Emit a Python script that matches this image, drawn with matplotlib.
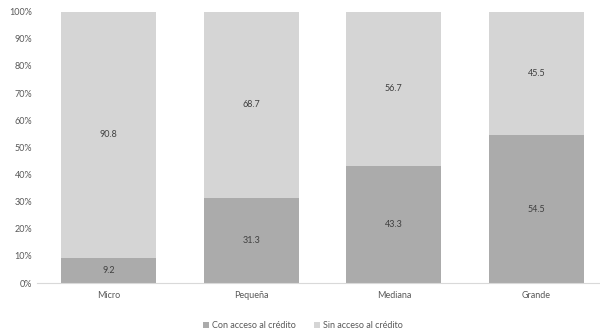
import matplotlib.pyplot as plt
import numpy as np

categorias = ["Micro", "Pequeña", "Mediana", "Grande"]
con_acceso = [9.2, 31.3, 43.3, 54.5]
sin_acceso = [90.8, 68.7, 56.7, 45.5]
yticks = [0, 10, 20, 30, 40, 50, 60, 70, 80, 90, 100]

oscuro = "#ababab"
claro = "#d5d5d5"
texto = "#595959"

plt.rcParams["font.family"] = ["Lato", "DejaVu Sans"]

fig = plt.figure(figsize=(6.0, 3.35), dpi=100)
ax = fig.add_axes([0.062, 0.155, 0.951, 0.81])

x = np.arange(len(categorias))
ancho = 0.666
ax.bar(x, con_acceso, ancho, color=oscuro, label="Con acceso al crédito")
ax.bar(x, sin_acceso, ancho, bottom=con_acceso, color=claro, label="Sin acceso al crédito")

for i in range(len(categorias)):
    ax.text(x[i], con_acceso[i] / 2, f"{con_acceso[i]:.1f}", ha="center", va="center",
            fontsize=6.5, color="#404040")
    ax.text(x[i], con_acceso[i] + sin_acceso[i] / 2, f"{sin_acceso[i]:.1f}", ha="center",
            va="center", fontsize=6.5, color="#404040")

ax.set_xlim(-0.5, 3.5)
ax.set_ylim(0, 100)
ax.set_yticks(yticks)
ax.set_yticklabels([f"{v}%" for v in yticks])
ax.set_xticks(x)
ax.set_xticklabels(categorias)
ax.tick_params(axis="both", length=0, labelsize=6.5, colors=texto)
ax.tick_params(axis="x", pad=6)
for s in ["top", "right", "left"]:
    ax.spines[s].set_visible(False)
ax.spines["bottom"].set_color("#d9d9d9")

ax.legend(loc="upper center", bbox_to_anchor=(0.465, -0.11), ncol=2, frameon=False,
          fontsize=6.5, handlelength=0.7, handleheight=0.7, handletextpad=0.3,
          columnspacing=2.0, labelcolor=texto)

fig.savefig("out.png", dpi=100)
